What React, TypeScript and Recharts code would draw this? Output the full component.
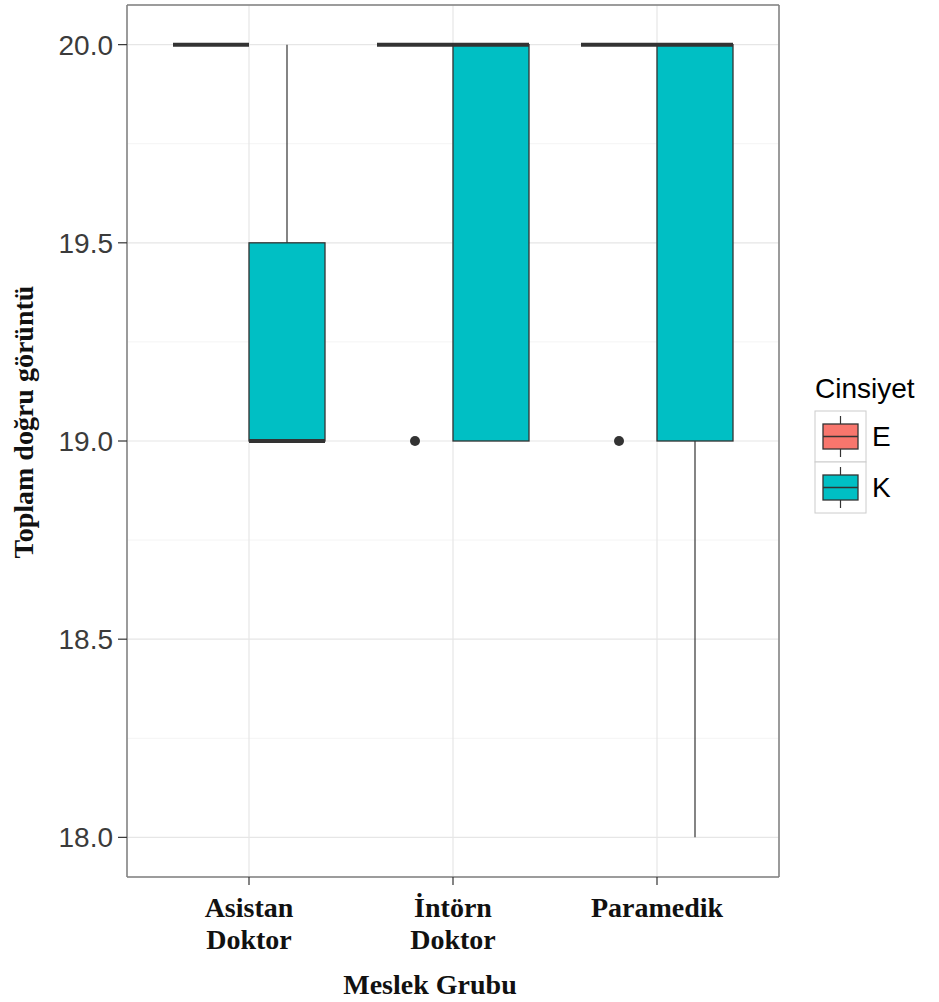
import {
  ComposedChart,
  Bar,
  XAxis,
  YAxis,
  CartesianGrid,
  Legend,
  Customized,
} from "recharts";

const groups = ["Asistan Doktor", "İntörn Doktor", "Paramedik"];
const groupTickLines = [["Asistan", "Doktor"], ["İntörn", "Doktor"], ["Paramedik"]];

// Erkek (E): lower whisker, Q1, median, Q3, upper whisker, outliers
const erkekLower = [20, 20, 20];
const erkekQ1 = [20, 20, 20];
const erkekMedian = [20, 20, 20];
const erkekQ3 = [20, 20, 20];
const erkekUpper = [20, 20, 20];
const erkekOutliers = [[], [19], [19]];

// Kadın (K)
const kadinLower = [19, 19, 18];
const kadinQ1 = [19, 19, 19];
const kadinMedian = [19, 20, 20];
const kadinQ3 = [19.5, 20, 20];
const kadinUpper = [20, 20, 20];
const kadinOutliers: number[][] = [[], [], []];

const yTicks = [18, 18.5, 19, 19.5, 20];
const yMinorTicks = [18.25, 18.75, 19.25, 19.75];
const yDomain: [number, number] = [17.9, 20.1];

const E_COLOR = "#F8766D";
const K_COLOR = "#00BFC4";
const INK = "#333333";
const BORDER = "#7f7f7f";

type Stats = {
  lower: number;
  q1: number;
  median: number;
  q3: number;
  upper: number;
  outliers: number[];
};

// bar value spans the full extent of the box glyph, so its pixel span maps values
const extent = (s: Stats): [number, number] => [
  Math.min(s.lower, ...s.outliers),
  Math.max(s.upper, ...s.outliers),
];

const data = groups.map((group, i) => {
  const e: Stats = {
    lower: erkekLower[i],
    q1: erkekQ1[i],
    median: erkekMedian[i],
    q3: erkekQ3[i],
    upper: erkekUpper[i],
    outliers: erkekOutliers[i],
  };
  const k: Stats = {
    lower: kadinLower[i],
    q1: kadinQ1[i],
    median: kadinMedian[i],
    q3: kadinQ3[i],
    upper: kadinUpper[i],
    outliers: kadinOutliers[i],
  };
  return { group, E: extent(e), K: extent(k), eStats: e, kStats: k };
});

const boxShape = (statsKey: "eStats" | "kStats") => (props: any) => {
  const { x, y, width, height, fill, payload } = props;
  const s: Stats = payload[statsKey];
  const [lo, hi] = extent(s);
  const top = Math.min(y, y + height);
  const bottom = Math.max(y, y + height);
  const py = (v: number) =>
    hi === lo ? top : top + ((bottom - top) * (hi - v)) / (hi - lo);
  const cx = x + width / 2;
  const boxTop = py(s.q3);
  const boxBottom = py(s.q1);
  return (
    <g>
      {s.upper > s.q3 && (
        <line x1={cx} x2={cx} y1={py(s.upper)} y2={boxTop} stroke={INK} strokeWidth={1.2} />
      )}
      {s.lower < s.q1 && (
        <line x1={cx} x2={cx} y1={boxBottom} y2={py(s.lower)} stroke={INK} strokeWidth={1.2} />
      )}
      {boxBottom - boxTop > 0 && (
        <rect
          x={x}
          y={boxTop}
          width={width}
          height={boxBottom - boxTop}
          fill={fill}
          stroke={INK}
          strokeWidth={1.3}
        />
      )}
      <line
        x1={x}
        x2={x + width}
        y1={py(s.median)}
        y2={py(s.median)}
        stroke={INK}
        strokeWidth={4}
      />
      {s.outliers.map((o, j) => (
        <circle key={j} cx={cx} cy={py(o)} r={5} fill={INK} />
      ))}
    </g>
  );
};

const CategoryTick = ({ x, y, payload }: any) => {
  const lines = groupTickLines[groups.indexOf(payload.value)] ?? [payload.value];
  return (
    <text
      x={x}
      y={y}
      textAnchor="middle"
      fontFamily="'Liberation Serif', serif"
      fontWeight="bold"
      fontSize={28}
      fill="#111"
    >
      {lines.map((line, i) => (
        <tspan key={i} x={x} dy={i === 0 ? 30 : 32}>
          {line}
        </tspan>
      ))}
    </text>
  );
};

const renderLegend = ({ payload }: any) => (
  <svg width={130} height={150} style={{ display: "block" }}>
    <text
      x={10}
      y={28}
      fontFamily="'Liberation Sans', Arial, sans-serif"
      fontSize={28}
      fill="#000"
    >
      Cinsiyet
    </text>
    {(payload ?? []).map((entry: any, i: number) => {
      const ky = 41 + i * 51;
      return (
        <g key={entry.value}>
          <rect x={10} y={ky} width={51} height={51} fill="#fff" stroke="#cccccc" />
          <line x1={35.5} x2={35.5} y1={ky + 5} y2={ky + 46} stroke={INK} strokeWidth={1.2} />
          <rect
            x={18}
            y={ky + 13}
            width={35}
            height={25}
            fill={entry.color}
            stroke={INK}
            strokeWidth={1.3}
          />
          <line x1={18} x2={53} y1={ky + 25.5} y2={ky + 25.5} stroke={INK} strokeWidth={1.3} />
          <text
            x={67}
            y={ky + 35}
            fontFamily="'Liberation Sans', Arial, sans-serif"
            fontSize={28}
            fill="#000"
          >
            {entry.value}
          </text>
        </g>
      );
    })}
  </svg>
);

const AxisTitles = () => (
  <g fontFamily="'Liberation Serif', serif" fontWeight="bold" fontSize={28} fill="#111">
    <text x={430} y={994} textAnchor="middle">
      Meslek Grubu
    </text>
    <text x={33} y={422} textAnchor="middle" transform="rotate(-90, 33, 422)">
      Toplam doğru görüntü
    </text>
  </g>
);

export default function App() {
  return (
    <div style={{ position: "absolute", left: 0, top: 0, width: 939, height: 1002, background: "#fff" }}>
      <ComposedChart
        width={939}
        height={1002}
        data={data}
        margin={{ top: 4, right: 159, bottom: 5, left: 27 }}
        barGap={0}
      >
        <CartesianGrid
          horizontalValues={yMinorTicks}
          vertical={false}
          stroke="#f4f4f4"
          strokeWidth={1}
        />
        <CartesianGrid stroke="#e6e6e6" strokeWidth={1.2} />
        <XAxis
          dataKey="group"
          type="category"
          padding={{ left: 20, right: 20 }}
          height={120}
          axisLine={{ stroke: BORDER, strokeWidth: 1.5 }}
          tickSize={8}
          tickLine={{ stroke: INK, strokeWidth: 1.2 }}
          tick={<CategoryTick />}
          interval={0}
        />
        {/* top and right axes only close the panel border */}
        <XAxis
          xAxisId="top"
          orientation="top"
          dataKey="group"
          type="category"
          padding={{ left: 20, right: 20 }}
          height={1}
          axisLine={{ stroke: BORDER, strokeWidth: 1.5 }}
          tick={false}
          tickLine={false}
          tickSize={0}
        />
        <YAxis
          type="number"
          domain={yDomain}
          ticks={yTicks}
          allowDataOverflow
          width={100}
          axisLine={{ stroke: BORDER, strokeWidth: 1.5 }}
          tickSize={9}
          tickMargin={5}
          tickLine={{ stroke: INK, strokeWidth: 1.2 }}
          tickFormatter={(v: number) => v.toFixed(1)}
          tick={{
            fill: "#3b3b3b",
            fontSize: 28,
            fontFamily: "'Liberation Sans', Arial, sans-serif",
          }}
        />
        <YAxis
          yAxisId="right"
          orientation="right"
          type="number"
          domain={yDomain}
          ticks={yTicks}
          allowDataOverflow
          width={1}
          axisLine={{ stroke: BORDER, strokeWidth: 1.5 }}
          tick={false}
          tickLine={false}
          tickSize={0}
        />
        <Bar
          dataKey="E"
          name="E"
          fill={E_COLOR}
          barSize={76}
          shape={boxShape("eStats")}
          isAnimationActive={false}
        />
        <Bar
          dataKey="K"
          name="K"
          fill={K_COLOR}
          barSize={76}
          shape={boxShape("kStats")}
          isAnimationActive={false}
        />
        <Legend
          layout="horizontal"
          align="center"
          verticalAlign="middle"
          content={renderLegend}
          wrapperStyle={{ left: 805, top: 370, width: 130 }}
        />
        <Customized component={<AxisTitles />} />
      </ComposedChart>
    </div>
  );
}
